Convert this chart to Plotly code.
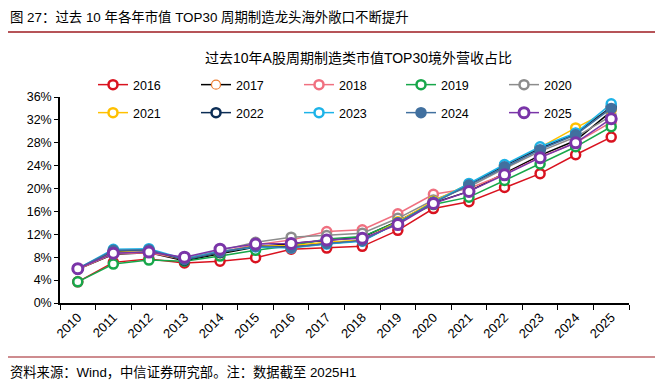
import plotly.graph_objects as go

years = [str(y) for y in range(2010, 2026)]
tick_vals_y = [0, 4, 8, 12, 16, 20, 24, 28, 32, 36]
tick_text_y = ["0%", "4%", "8%", "12%", "16%", "20%", "24%", "28%", "32%", "36%"]

s2016 = [3.7, 7.1, 7.7, 7.0, 7.3, 7.9, 9.4, 9.6, 9.9, 12.7, 16.5, 17.7, 20.2, 22.6, 25.9, 29.0]
s2017 = [5.9, 8.5, 8.8, 7.4, 8.6, 9.8, 10.4, 11.0, 11.5, 14.3, 17.5, 19.5, 22.6, 25.8, 28.4, 33.5]
s2018 = [5.9, 8.6, 8.8, 7.6, 8.9, 10.2, 11.0, 12.5, 12.8, 15.6, 19.0, 20.0, 22.5, 25.5, 28.0, 31.6]
s2019 = [3.7, 6.8, 7.5, 7.3, 8.2, 9.2, 10.0, 11.2, 11.6, 14.2, 17.2, 18.5, 21.4, 24.3, 27.3, 30.8]
s2020 = [6.0, 8.8, 9.0, 7.8, 9.2, 10.6, 11.5, 11.8, 12.2, 14.8, 18.0, 20.3, 23.5, 26.5, 29.0, 32.7]
s2021 = [6.0, 9.0, 9.2, 7.6, 8.8, 10.0, 10.0, 10.6, 11.0, 14.2, 17.8, 20.8, 24.0, 27.2, 30.6, 33.8]
s2022 = [6.0, 9.1, 9.3, 7.5, 8.8, 9.9, 9.8, 10.4, 10.9, 14.0, 17.6, 20.7, 24.0, 27.0, 29.6, 34.3]
s2023 = [6.0, 9.4, 9.5, 7.7, 9.0, 9.8, 9.6, 10.3, 10.8, 14.0, 17.6, 20.9, 24.2, 27.3, 29.7, 34.8]
s2024 = [6.0, 9.2, 9.3, 7.6, 8.9, 9.9, 9.7, 10.4, 10.9, 14.0, 17.5, 20.6, 23.8, 26.8, 29.4, 34.0]
s2025 = [6.0, 8.7, 8.9, 8.0, 9.4, 10.3, 10.4, 11.0, 11.3, 13.7, 17.4, 19.5, 22.4, 25.4, 28.0, 32.2]

series = [
    ("2016", s2016, "#D9121F", "#D9121F", "white", 2.5),
    ("2017", s2017, "#000000", "#ED7D31", "white", 1.2),
    ("2018", s2018, "#F07080", "#F07080", "white", 2.5),
    ("2019", s2019, "#17A74A", "#17A74A", "white", 2.5),
    ("2020", s2020, "#8C8C8C", "#8C8C8C", "white", 2.5),
    ("2021", s2021, "#FFC000", "#FFC000", "white", 2.5),
    ("2022", s2022, "#0B2D55", "#0B2D55", "white", 2.5),
    ("2023", s2023, "#1DB3E8", "#1DB3E8", "white", 2.5),
    ("2024", s2024, "#41709F", "#41709F", "#41709F", 2.5),
    ("2025", s2025, "#7A35A8", "#7A35A8", "white", 3.0),
]

FONT = "Liberation Sans, Arial, Noto Sans CJK SC, sans-serif"
W, H = 667, 386
PL, PR, PT, PB = 60, 629, 97, 303  # plot area in pixels
PW, PH = PR - PL, PB - PT


def px(x):
    return (x - PL) / PW


def py(y):
    return (PB - y) / PH


fig = go.Figure()
legend_layouts = {}
col_x = [93, 196, 299, 401, 504]
row_y = [85, 113]
for i, (name, vals, lc, mc, fill, mlw) in enumerate(series):
    lg = "legend" if i == 0 else f"legend{i + 1}"
    fig.add_trace(go.Scatter(
        x=years, y=vals, name=name, mode="lines+markers",
        line=dict(color=lc, width=1.5),
        marker=dict(symbol="circle", size=10 if name == "2025" else 9, color=fill,
                    line=dict(color=mc, width=mlw)),
        legend=lg,
    ))
    legend_layouts[lg] = dict(
        x=px(col_x[i % 5]), y=py(row_y[i // 5]),
        xanchor="left", yanchor="middle", orientation="h",
        font=dict(family=FONT, size=12.5, color="#000"),
        bgcolor="rgba(0,0,0,0)", borderwidth=0, itemwidth=30,
    )

fig.update_layout(
    width=W, height=H,
    margin=dict(l=PL, r=W - PR, t=PT, b=H - PB),
    paper_bgcolor="white", plot_bgcolor="white",
    font=dict(family=FONT, size=12, color="#000"),
    showlegend=True,
    xaxis=dict(type="category", categoryorder="array", categoryarray=years,
               range=[-0.5, 15.5], showline=True, linecolor="#000", linewidth=1.5,
               ticks="outside", ticklen=5, tickcolor="#000", tickson="boundaries",
               tickangle=-45, showgrid=False, zeroline=False, automargin=False,
               tickfont=dict(family=FONT, size=13, color="#000")),
    yaxis=dict(range=[0, 36], tickvals=tick_vals_y, ticktext=tick_text_y,
               showline=True, linecolor="#000", linewidth=1.5,
               ticks="outside", ticklen=4, tickcolor="#000",
               showgrid=False, zeroline=False, automargin=False,
               tickfont=dict(family=FONT, size=12.5, color="#000")),
    shapes=[
        dict(type="line", xref="paper", yref="paper", x0=px(8), x1=px(655),
             y0=py(32), y1=py(32), line=dict(color="#9E1B20", width=1.5)),
        dict(type="line", xref="paper", yref="paper", x0=px(8), x1=px(655),
             y0=py(357), y1=py(357), line=dict(color="#9E1B20", width=1.2)),
    ],
    annotations=[
        dict(text="图 27：过去 10 年各年市值 TOP30 周期制造龙头海外敞口不断提升",
             xref="paper", yref="paper", x=px(8), y=py(17),
             xanchor="left", yanchor="middle", showarrow=False,
             font=dict(family=FONT, size=13.4, color="#000")),
        dict(text="过去10年A股周期制造类市值TOP30境外营收占比",
             xref="paper", yref="paper", x=px(358), y=py(58),
             xanchor="center", yanchor="middle", showarrow=False,
             font=dict(family=FONT, size=14, color="#000")),
        dict(text="资料来源：Wind，中信证券研究部。注：数据截至 2025H1",
             xref="paper", yref="paper", x=px(8), y=py(372),
             xanchor="left", yanchor="middle", showarrow=False,
             font=dict(family=FONT, size=13.3, color="#000")),
    ],
)
fig.update_layout(**legend_layouts)

fig.write_html("out.html", config={"displayModeBar": False},
               post_script="document.body.style.margin='0';document.body.style.padding='0';")
